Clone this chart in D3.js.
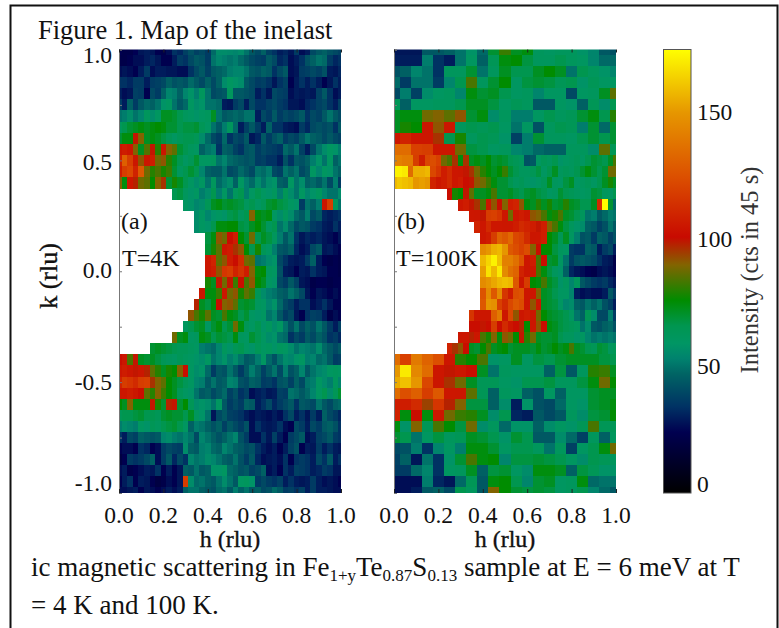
<!DOCTYPE html>
<html><head><meta charset="utf-8">
<style>html,body{margin:0;padding:0;background:#fff}svg{display:block}text{font-family:"Liberation Serif","Times New Roman",serif;fill:#111}</style>
<script src="https://cdn.jsdelivr.net/npm/d3@7/dist/d3.min.js"></script>
</head><body><svg id="c" width="779" height="628"></svg>
<script>
const kValues = d3.range(41).map(i => +(1 - i * 0.05).toFixed(2));
const hTicks = [0, 0.2, 0.4, 0.6, 0.8, 1];
const kTicks = [1, 0.5, 0, -0.5, -1];
const barTicks = [0, 50, 100, 150];
const colorStops = [0, 24, 34, 47, 53, 59, 66, 76, 90, 101, 125, 150, 175];
const colorValues = ["#000000", "#000050", "#003264", "#006464", "#00826e", "#009664", "#009650", "#008c00", "#826400", "#c80a00", "#dc5000", "#e69600", "#ffff00"];
// blank columns at the left of each row (beam hole)
const aGap = [0,0,0,0,0,0,0,0,0,0,0,0,0,10,12,14,14,16,16,16,16,16,15,14,13,12,10,6,0,0,0,0,0,0,0,0,0,0,0,0,0];
const bGap = [0,0,0,0,0,0,0,0,0,0,0,0,0,10,12,14,15,16,16,16,16,16,16,16,14,14,12,10,0,0,0,0,0,0,0,0,0,0,0,0,0];
// T = 4 K: rows from k = 1.0 to k = -1.0, h step 0.025, starting after the gap
const aRows = [
[24,22,22,25,28,30,28,24,22,26,34,32,38,42,38,40,36,48,56,56,55,54,56,50,44,40,46,38,34,30,32,28,36,26,30,40,44,46,42,40,38],
[22,22,24,26,26,30,32,28,24,24,30,36,34,40,44,42,36,50,54,52,50,52,48,44,40,38,36,44,40,32,34,26,30,34,42,46,50,48,36,32,34],
[26,28,26,24,30,36,26,30,30,28,28,26,26,34,40,44,38,44,46,48,52,54,54,50,44,42,46,44,34,40,44,26,28,36,38,40,38,42,30,28,32],
[34,34,32,36,36,30,36,38,40,46,42,44,42,48,44,40,46,40,46,56,60,58,56,44,40,36,38,34,28,34,38,24,30,34,30,34,30,24,28,34,30],
[30,26,28,38,36,24,40,36,46,54,52,46,54,58,52,62,50,40,42,44,62,44,44,42,40,30,34,28,40,38,36,26,30,28,30,28,38,44,34,26,30],
[36,30,46,36,44,48,46,50,58,60,50,44,48,60,56,58,50,50,48,30,28,36,40,30,40,34,34,38,40,36,34,28,28,26,32,34,38,40,34,30,38],
[50,52,56,50,54,62,56,60,72,72,70,66,62,60,58,60,62,72,50,44,46,48,46,50,50,30,40,36,44,36,40,38,40,44,34,40,38,44,50,44,40],
[62,66,70,72,74,72,74,76,74,70,70,66,68,68,70,64,60,50,44,52,62,48,30,38,44,36,30,46,34,34,30,28,26,36,32,40,42,40,42,34,44],
[70,74,74,100,90,72,74,72,68,64,60,64,66,66,64,56,48,40,36,48,34,40,38,44,28,32,44,36,42,46,36,40,38,44,50,46,44,40,44,40,38],
[105,108,106,90,72,85,100,80,104,90,86,70,66,62,60,46,50,52,34,46,44,38,34,42,44,36,40,38,36,34,48,44,50,38,30,40,50,56,60,58,52],
[110,130,118,105,92,104,108,88,92,80,72,66,60,64,70,60,60,62,50,54,48,46,44,42,44,36,38,34,34,30,42,34,44,42,46,52,58,50,60,46,50],
[108,118,122,110,128,88,80,84,78,82,70,62,66,70,66,54,46,44,44,50,40,42,48,44,40,50,48,52,40,38,50,46,50,40,44,60,54,60,58,50,46],
[90,75,106,98,88,86,76,90,96,70,78,72,66,60,56,60,50,62,48,52,56,46,60,52,48,56,50,56,58,46,44,60,50,56,46,48,44,50,40,52,36],
[66,68,62,58,60,52,56,66,52,60,50,62,66,52,60,66,60,58,62,52,64,56,50,60,54,58,62,54,50,50,56],
[60,58,54,56,64,72,74,70,72,70,68,62,66,60,64,70,72,68,66,60,58,36,50,46,52,104,118,62,50],
[56,60,54,58,60,58,66,68,62,66,90,74,72,74,60,56,62,56,48,44,52,40,44,32,30,32,34],
[56,60,58,66,74,74,76,76,68,66,72,76,70,62,66,50,56,48,40,44,42,36,34,30,28,34,30],
[68,74,92,88,102,108,76,70,88,66,72,68,62,52,44,50,34,28,32,30,32,28,26,24,28],
[70,78,86,106,108,96,92,76,66,78,64,60,52,44,42,46,32,26,30,40,44,28,30,26,24],
[106,110,86,92,108,102,112,88,86,50,52,56,58,40,34,30,28,30,36,46,30,24,22,24,22],
[104,108,92,116,118,110,114,108,90,74,76,62,60,42,30,28,24,30,28,34,30,28,24,24,22],
[78,72,100,88,100,82,102,84,92,76,72,60,58,40,36,44,38,28,26,22,24,24,22,24,24],
[104,74,74,82,106,88,92,78,86,82,64,56,52,50,46,44,50,46,40,28,24,28,26,24,26,24],
[98,72,68,74,102,90,92,86,70,72,70,62,60,54,58,48,40,36,30,34,34,26,30,34,28,24,24],
[92,84,78,86,72,70,84,74,72,66,70,60,58,60,50,54,44,36,40,28,24,34,38,36,30,22,26,24],
[62,66,70,72,60,70,74,66,70,88,74,64,60,66,58,62,56,60,50,42,50,40,46,42,50,44,36,30,38],
[88,72,74,60,62,74,72,66,70,68,66,74,62,60,70,66,60,56,58,50,48,34,40,36,44,40,46,42,34,36,32],
[70,72,70,68,66,64,64,62,60,52,50,48,54,62,58,64,66,60,58,64,60,62,58,62,60,56,50,54,52,50,56,48,44,40,44],
[102,104,84,100,72,70,72,68,64,62,60,64,62,60,58,56,60,50,54,58,52,56,50,44,46,52,60,48,42,50,56,54,58,60,52,54,48,50,44,36,38],
[106,108,104,100,104,98,86,80,72,78,76,90,102,60,56,58,48,36,44,42,50,44,36,44,52,46,38,44,50,40,52,42,46,54,44,50,54,56,60,62,60],
[110,118,116,112,118,120,96,90,86,76,72,68,64,60,54,52,44,50,44,46,54,52,42,40,46,44,36,38,34,42,44,38,46,40,50,52,60,56,52,62,54],
[104,106,108,104,102,86,80,90,82,76,72,64,60,58,50,44,46,40,44,48,38,42,34,38,26,30,32,28,30,38,36,50,48,44,48,54,60,66,56,64,70],
[76,72,90,74,74,74,100,78,70,98,100,70,76,64,56,58,56,50,60,44,36,40,36,46,44,30,34,40,32,36,40,44,34,44,42,40,50,44,40,46,48],
[64,66,66,68,70,66,66,64,70,72,70,70,66,72,62,58,50,28,40,44,38,36,34,30,26,30,28,26,30,26,34,40,30,34,28,36,30,46,40,36,32],
[52,56,54,52,60,58,64,62,66,68,70,66,60,46,52,50,46,42,46,38,44,40,36,42,26,34,30,28,30,34,26,24,40,36,30,40,36,44,46,42,34],
[34,30,40,38,46,44,42,44,54,56,52,50,54,50,40,54,50,46,42,46,50,54,42,36,26,26,34,28,38,30,24,36,40,44,26,30,38,40,44,36,34],
[24,26,26,24,34,32,24,26,36,40,38,36,56,46,44,52,54,48,46,54,50,46,44,40,42,34,30,26,30,24,30,38,42,24,30,28,36,30,34,30,28],
[20,24,36,34,36,40,46,26,36,44,32,40,34,54,50,52,56,54,50,46,44,50,42,36,44,32,26,28,30,26,34,24,34,36,34,30,40,34,44,30,34],
[26,30,22,24,26,30,28,34,24,30,24,28,46,44,50,44,46,58,58,60,48,46,42,44,38,40,46,26,30,24,34,30,38,36,34,30,32,36,34,28,28],
[24,30,34,24,30,28,24,20,22,26,24,28,118,56,48,50,46,44,50,56,50,44,60,62,58,36,40,36,34,38,30,34,30,28,30,36,30,26,28,26,24],
[26,26,28,30,24,28,26,24,26,30,26,30,46,50,50,46,44,42,48,50,44,52,46,50,44,46,40,42,48,44,36,38,34,38,30,36,30,30,28,26,26]
];
// T = 100 K: rows of 21 values have h step 0.05, rows of more have h step 0.025
const bRows = [
[28,28,28,44,44,46,50,58,48,70,82,72,74,62,60,62,62,58,54,44,42],
[30,30,30,52,34,30,50,60,46,64,74,76,68,62,62,66,62,60,54,48,48],
[42,46,54,50,34,62,62,70,50,62,72,66,66,72,76,72,50,66,62,58,54],
[48,36,50,50,36,54,66,84,62,70,76,60,68,70,68,64,66,58,64,60,60],
[40,52,38,56,60,62,54,74,70,72,66,60,62,54,60,60,40,60,62,72,86],
[64,46,60,60,62,62,66,72,72,68,60,64,62,44,44,60,58,46,64,56,66],
[72,74,74,88,90,86,92,70,74,56,62,52,52,60,66,62,64,70,74,66,80],
[72,78,76,104,92,106,62,66,64,66,60,50,60,42,62,66,64,52,70,48,70],
[106,110,106,106,96,66,78,62,66,64,58,38,52,70,62,62,60,66,70,66,70],
[135,135,120,118,106,106,88,68,66,60,62,54,52,48,46,46,62,62,56,86,64],
[142,142,140,140,118,108,122,124,120,88,84,96,74,96,72,74,72,76,70,72,70,66,64,62,42,44,60,64,62,66,58,60,62,64,60,66,70,68,66,72,84],
[172,172,170,135,156,156,158,122,116,108,112,106,104,100,96,88,80,76,72,76,82,70,66,62,62,64,68,60,66,72,62,64,62,66,70,74,70,66,70,88,88],
[158,162,160,158,150,152,150,110,104,108,112,106,108,102,100,92,88,82,74,70,70,66,62,64,60,58,60,64,72,62,60,68,72,60,62,64,60,66,72,78,72],
[102,78,76,100,86,72,72,74,84,70,70,72,68,66,70,72,68,66,60,62,70,66,64,62,60,62,70,68,62,60,66],
[106,108,100,96,84,104,92,102,90,108,110,92,74,72,80,72,78,70,72,80,72,70,66,66,72,112,174,70,48],
[106,104,100,118,120,116,106,88,106,108,104,92,90,84,74,78,84,72,70,66,62,50,52,44,48,52,50],
[110,106,112,106,106,104,104,108,112,110,108,100,108,90,84,74,68,62,58,56,46,44,38,42,50,44],
[106,108,118,132,128,134,122,120,112,104,106,108,76,72,64,72,60,52,42,44,36,46,44,38,42],
[146,150,156,158,150,128,124,120,124,90,102,76,76,68,62,60,36,34,34,46,44,30,36,40,30],
[158,165,172,160,142,142,136,126,106,108,84,102,70,72,60,50,36,42,44,42,40,34,30,28,22],
[152,168,158,170,146,136,132,110,104,106,84,74,68,62,58,46,32,28,26,24,22,26,28,26,24],
[146,150,154,158,160,158,128,106,118,76,74,84,72,68,58,62,54,62,44,40,36,34,36,32,28],
[126,146,128,146,116,108,124,126,106,106,90,72,70,66,60,60,54,30,26,28,26,26,30,44,36],
[128,150,148,120,112,122,128,124,106,92,104,72,70,68,60,54,56,46,44,50,46,50,42,38,30],
[116,106,104,104,130,140,106,122,92,106,108,104,88,76,72,70,68,66,60,50,46,64,56,40,40,52,36],
[102,102,100,102,118,102,112,104,102,98,76,104,92,102,74,72,68,66,64,62,50,56,44,42,46,48,42],
[104,106,98,104,84,78,90,74,92,88,76,100,80,88,72,70,70,72,66,62,62,58,60,54,50,52,50,52,50],
[110,96,92,102,72,70,76,84,72,74,76,70,72,72,72,70,74,70,72,76,72,74,84,72,70,66,64,70,68,62,64],
[135,120,140,132,125,106,80,76,84,58,60,72,60,68,66,70,72,72,72,68,66],
[150,170,145,135,106,100,104,102,72,50,62,60,60,60,46,68,44,62,80,82,72],
[155,160,150,122,104,96,88,72,64,64,60,58,66,66,68,62,62,68,74,88,76],
[135,125,130,118,128,106,104,86,64,46,62,60,46,42,60,46,60,60,70,72,72],
[108,108,112,94,116,98,90,68,68,46,56,30,58,42,40,48,60,58,70,72,74],
[110,74,102,74,106,88,82,80,72,56,66,32,30,44,40,44,62,56,68,70,76],
[74,58,90,64,84,76,68,88,56,62,48,58,58,46,56,60,58,64,84,64,64],
[70,66,50,60,68,62,64,72,70,66,58,70,66,44,44,56,48,38,62,46,62],
[40,42,52,34,54,60,52,74,74,70,60,66,66,62,50,62,38,60,66,74,88],
[38,46,28,50,34,58,70,84,74,76,54,68,68,70,68,66,60,56,66,64,62],
[36,36,48,54,34,60,62,72,46,68,70,60,56,74,74,72,46,68,64,58,58],
[26,26,26,52,32,28,48,64,44,74,76,66,54,70,72,60,62,74,48,50,50],
[26,26,30,44,46,40,66,62,44,90,76,70,68,70,68,60,62,66,54,48,44]
];

const svg = d3.select("#c");
const color = d3.scaleLinear().domain(colorStops).range(colorValues).clamp(true);
const yK = d3.scaleLinear().domain([1, -1]).range([49.5, 493]);
const panelW = 222, panelTop = 49.5, panelH = 443.5;
const SERIF = 23.5;

svg.append("defs").append("filter").attr("id", "soft")
  .attr("x", "-2%").attr("y", "-2%").attr("width", "104%").attr("height", "104%")
  .append("feGaussianBlur").attr("stdDeviation", 0.55);

function label(sel) { return sel.attr("stroke", "#111").attr("stroke-width", 0.35); }

function panel(x0, rows, gaps, clipId, showY) {
  const xH = d3.scaleLinear().domain([0, 1]).range([x0, x0 + panelW]);
  svg.append("clipPath").attr("id", clipId).append("rect")
    .attr("x", x0).attr("y", panelTop).attr("width", panelW).attr("height", panelH);
  const g = svg.append("g").attr("clip-path", `url(#${clipId})`).append("g").attr("filter", "url(#soft)");
  rows.forEach((row, r) => {
    const step = (row.length + gaps[r]) > 25 ? 0.025 : 0.05;
    const k = kValues[r];
    g.selectAll(null).data(row).enter().append("rect")
      .attr("shape-rendering", "crispEdges")
      .attr("x", (d, i) => xH((gaps[r] + i) * step - step / 2))
      .attr("width", xH(step) - xH(0) + 0.6)
      .attr("y", yK(k + 0.025))
      .attr("height", yK(k - 0.025) - yK(k + 0.025) + 0.6)
      .attr("fill", d => color(d));
  });
  const ax = svg.append("g").attr("fill", "none");
  ax.append("g").attr("transform", `translate(${x0},0)`)
    .call(d3.axisRight(yK).tickValues(d3.range(-1, 1.01, 0.25)).tickSize(3).tickFormat(""))
    .call(s => s.selectAll("line,path").attr("stroke", "#777").attr("stroke-width", 1));
  ax.append("g").attr("transform", `translate(0,${panelTop + panelH})`)
    .call(d3.axisTop(xH).tickValues(hTicks).tickSize(4).tickFormat(""))
    .call(s => s.select(".domain").remove())
    .call(s => s.selectAll("line").attr("stroke", "#222").attr("stroke-width", 1));
  ax.append("g").attr("transform", `translate(0,${panelTop})`)
    .call(d3.axisBottom(xH).tickValues(hTicks).tickSize(3).tickFormat(""))
    .call(s => s.select(".domain").remove())
    .call(s => s.selectAll("line").attr("stroke", "#222").attr("stroke-width", 1));
  svg.selectAll(null).data(hTicks).enter().append("text")
    .attr("x", d => xH(d)).attr("y", 523).attr("text-anchor", "middle")
    .attr("font-size", SERIF).text(d => d.toFixed(1));
  label(svg.append("text").attr("x", xH(0.5)).attr("y", 547).attr("text-anchor", "middle")
    .attr("font-size", 24).text("h (rlu)"));
  if (showY) {
    const off = v => v === 1 ? 6 : v === -1 ? -9 : v === 0 ? 0 : v === 0.5 ? 3 : 1;
    svg.selectAll(null).data(kTicks).enter().append("text")
      .attr("x", 112).attr("y", d => yK(d) + off(d) + 7).attr("text-anchor", "end")
      .attr("font-size", SERIF).text(d => d.toFixed(1));
    label(svg.append("text").attr("transform", `translate(57,276) rotate(-90)`).attr("text-anchor", "middle")
      .attr("font-size", 26).text("k (rlu)"));
  }
}
panel(119, aRows, aGap, "clipA", true);
panel(394, bRows, bGap, "clipB", false);

[["(a)", 121, 229], ["T=4K", 122, 266], ["(b)", 397, 229], ["T=100K", 396, 266]].forEach(([t, x, y]) => {
  svg.append("text").attr("x", x).attr("y", y).attr("font-size", 24).text(t);
});

const yBar = d3.scaleLinear().domain([0, 175]).range([493, 49]);
const grad = svg.select("defs").append("linearGradient").attr("id", "barGrad")
  .attr("x1", 0).attr("y1", 1).attr("x2", 0).attr("y2", 0);
colorStops.forEach((v, i) => grad.append("stop").attr("offset", v / 175).attr("stop-color", colorValues[i]));
svg.append("rect").attr("x", 663.5).attr("y", 49.5).attr("width", 27.5).attr("height", 443.5)
  .attr("fill", "url(#barGrad)").attr("stroke", "#555").attr("stroke-width", 1);
const barOff = v => v === 0 ? -9 : 0;
svg.selectAll(null).data(barTicks).enter().append("text")
  .attr("x", 697).attr("y", d => yBar(d) + barOff(d) + 8).attr("font-size", SERIF).text(d => d);
svg.append("text").attr("transform", "translate(758,270) rotate(-90)").attr("text-anchor", "middle")
  .attr("font-size", 24.5).style("fill", "#333").text("Intensity (cts in 45 s)");

svg.append("path").attr("d", "M10.5,628V5.5H777.5V628").attr("fill", "none").attr("stroke", "#111").attr("stroke-width", 2);
svg.append("text").attr("x", 38).attr("y", 39).attr("font-size", 26.5).text("Figure 1. Map of the inelast");
const cap = svg.append("text").attr("x", 31).attr("y", 576).attr("font-size", 27);
cap.append("tspan").text("ic magnetic scattering in Fe");
const sub = (t) => cap.append("tspan").attr("font-size", 17).attr("dy", 5).text(t);
const sup = (t) => cap.append("tspan").attr("dy", -5).text(t);
sub("1+y"); sup("Te"); sub("0.87"); sup("S"); sub("0.13"); sup(" sample at E = 6 meV at T");
svg.append("text").attr("x", 31).attr("y", 614).attr("font-size", 27).text("= 4 K and 100 K.");
</script></body></html>
